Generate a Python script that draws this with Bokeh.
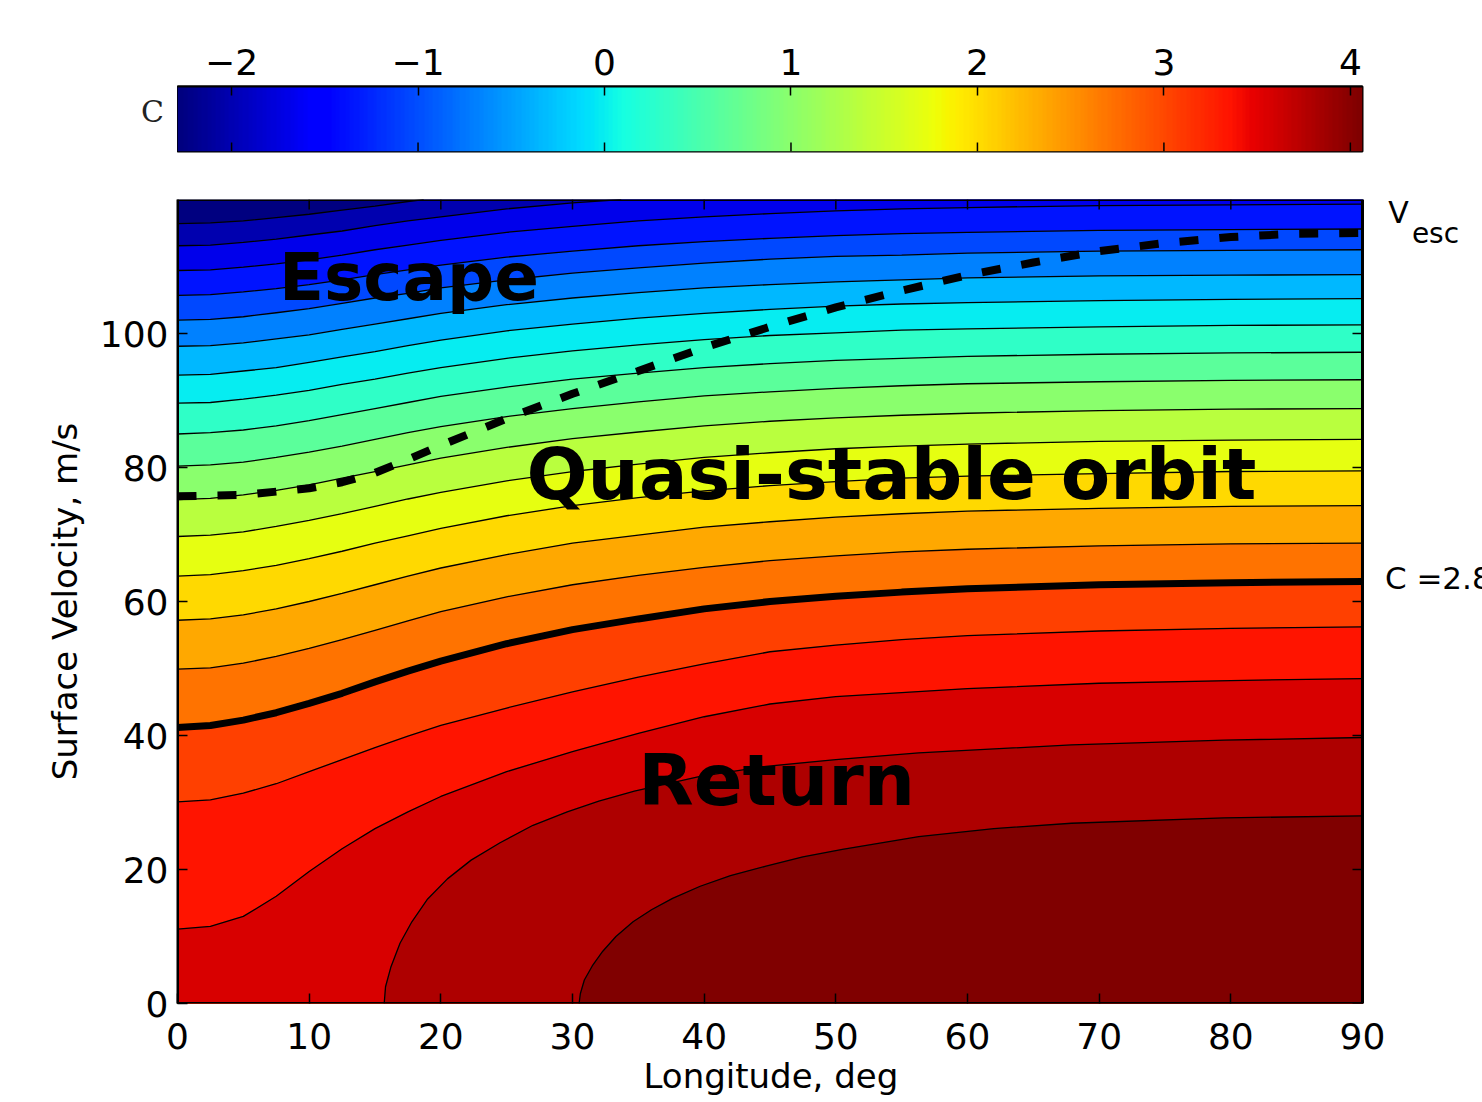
import numpy as np
from bokeh.plotting import figure
from bokeh.models import Range1d, FixedTicker, LinearColorMapper, Title
from bokeh.layouts import column, row
from bokeh.embed import file_html
from bokeh.resources import INLINE
from bokeh.core.properties import value

# ---------------- data ----------------
C_MIN, C_MAX = -2.29, 4.065
cbar_ticks = [-2, -1, 0, 1, 2, 3, 4]
lon_ticks = [0, 10, 20, 30, 40, 50, 60, 70, 80, 90]
vel_ticks = [0, 20, 40, 60, 80, 100]

# C value of each filled band, top (band 0) to bottom-right (band 20)
band_C = [-2.29, -2.03, -1.70, -1.38, -1.05, -0.69, -0.35, -0.02, 0.30, 0.64, 1.00,
          1.36, 1.71, 2.03, 2.36, 2.72, 3.06, 3.36, 3.58, 3.81, 4.06]

lon = [0, 2.5, 5, 7.5, 10, 12.5, 15, 17.5, 20, 25, 30, 35, 40, 45, 50, 55, 60, 70, 80, 90]

L01_lon = [0, 2.5, 5, 7.5, 10, 12.5, 15, 17.5, 18.7]
L01_v = [116.4, 116.5, 116.8, 117.3, 117.8, 118.4, 119.0, 119.7, 120.0]
L02_lon = [0, 2.5, 5, 7.5, 10, 12.5, 15, 17.5, 20, 25, 30, 33.7]
L02_v = [113.1, 113.2, 113.6, 114.1, 114.7, 115.3, 116.1, 116.8, 117.4, 118.6, 119.5, 120.0]
L03_v = [109.4, 109.5, 109.9, 110.4, 111.0, 111.7, 112.5, 113.2, 113.9, 115.1, 116.0, 116.8, 117.4, 117.9, 118.3, 118.6, 118.8, 119.1, 119.2, 119.3]
L04_v = [105.7, 105.8, 106.2, 106.7, 107.3, 108.0, 108.8, 109.5, 110.2, 111.4, 112.3, 113.1, 113.7, 114.2, 114.6, 114.9, 115.1, 115.4, 115.5, 115.6]
L05_v = [102.0, 102.1, 102.5, 103.1, 103.7, 104.5, 105.3, 106.0, 106.8, 108.0, 109.0, 109.8, 110.5, 111.1, 111.5, 111.7, 112.0, 112.3, 112.4, 112.5]
L06_v = [98.1, 98.2, 98.6, 99.2, 99.8, 100.6, 101.4, 102.2, 103.0, 104.3, 105.3, 106.1, 106.8, 107.3, 107.7, 108.0, 108.3, 108.6, 108.7, 108.8]
L07_v = [93.8, 93.9, 94.4, 94.9, 95.7, 96.5, 97.3, 98.2, 99.0, 100.4, 101.4, 102.3, 103.0, 103.6, 104.1, 104.4, 104.6, 104.9, 105.1, 105.2]
L08_v = [89.6, 89.7, 90.2, 90.8, 91.5, 92.4, 93.2, 94.1, 94.9, 96.3, 97.4, 98.3, 99.1, 99.7, 100.1, 100.5, 100.7, 101.0, 101.2, 101.3]
L09_v = [85.0, 85.2, 85.6, 86.2, 87.0, 87.9, 88.8, 89.7, 90.6, 92.0, 93.2, 94.1, 94.9, 95.5, 96.0, 96.3, 96.6, 96.9, 97.1, 97.2]
L10_v = [80.2, 80.4, 80.8, 81.5, 82.3, 83.2, 84.2, 85.2, 86.1, 87.6, 88.8, 89.8, 90.7, 91.3, 91.8, 92.2, 92.5, 92.8, 93.0, 93.1]
L11_v = [75.2, 75.4, 75.9, 76.6, 77.4, 78.4, 79.4, 80.4, 81.4, 83.0, 84.3, 85.3, 86.2, 86.9, 87.4, 87.8, 88.1, 88.5, 88.7, 88.8]
L12_v = [69.7, 69.9, 70.4, 71.2, 72.1, 73.1, 74.2, 75.3, 76.3, 78.0, 79.4, 80.5, 81.5, 82.2, 82.8, 83.2, 83.5, 83.9, 84.1, 84.2]
L13_v = [63.8, 64.0, 64.6, 65.4, 66.4, 67.5, 68.7, 69.8, 70.9, 72.8, 74.3, 75.5, 76.5, 77.3, 77.9, 78.4, 78.7, 79.1, 79.4, 79.5]
L14_v = [57.2, 57.4, 58.0, 58.9, 60.0, 61.2, 62.5, 63.8, 65.0, 67.0, 68.7, 69.9, 71.1, 71.9, 72.6, 73.1, 73.5, 73.9, 74.2, 74.3]
L15_v = [49.9, 50.1, 50.8, 51.8, 53.0, 54.3, 55.7, 57.1, 58.5, 60.7, 62.5, 63.9, 65.1, 66.1, 66.8, 67.4, 67.8, 68.3, 68.6, 68.7]
L16_v = [41.2, 41.5, 42.3, 43.4, 44.8, 46.3, 48.0, 49.6, 51.1, 53.7, 55.8, 57.4, 58.9, 60.0, 60.8, 61.4, 61.9, 62.5, 62.8, 63.0]  # C = 2.8
L17_v = [30.1, 30.4, 31.4, 32.8, 34.6, 36.4, 38.2, 39.9, 41.5, 44.1, 46.5, 48.7, 50.7, 52.5, 53.5, 54.3, 54.9, 55.6, 56.0, 56.2]
L18_lon = [0, 2.5, 5, 7.5, 10, 12.5, 15, 17.5, 20, 25, 30, 35, 40, 45, 50, 60, 70, 80, 90]
L18_v = [11.1, 11.5, 13.0, 16.0, 19.7, 23.1, 26.1, 28.6, 30.9, 34.6, 37.6, 40.3, 42.8, 44.7, 45.8,
         47.0, 47.8, 48.2, 48.5]
L19_lon = [15.7, 15.8, 16.2, 16.9, 17.8, 19.0, 20.5, 22.3, 24.5, 27.0, 29.6, 32.0, 34.7, 39.7,
           44.7, 50.0, 56.3, 67.9, 79.5, 90]
L19_v = [0.0, 2.5, 5.4, 9.0, 12.2, 15.6, 18.6, 21.4, 24.0, 26.6, 28.6, 30.2, 31.7, 33.9,
         35.4, 36.4, 37.4, 38.6, 39.3, 39.7]
L20_lon = [30.5, 30.6, 30.9, 31.5, 32.3, 33.3, 34.6, 36.0, 37.6, 39.7, 42.0, 44.7, 47.5, 50.5,
           56.3, 62.0, 67.9, 79.5, 90]
L20_v = [0.0, 1.5, 3.5, 5.6, 7.8, 10.0, 12.2, 14.0, 15.7, 17.5, 19.1, 20.5, 21.9, 23.0,
         24.9, 26.1, 26.9, 27.7, 28.0]

vesc_lon = [0, 5, 10, 12.5, 15, 17.5, 20, 25, 30, 35, 40, 45, 50, 55, 60, 65, 70, 75, 80, 85, 90]
vesc_v = [75.7, 75.9, 76.9, 77.8, 79.2, 81.2, 83.3, 87.3, 91.0, 94.4, 97.9, 101.0, 103.9, 106.4,
          108.7, 110.6, 112.3, 113.5, 114.4, 114.9, 115.0]

contours = [
    (L01_lon, L01_v), (L02_lon, L02_v), (lon, L03_v), (lon, L04_v), (lon, L05_v),
    (lon, L06_v), (lon, L07_v), (lon, L08_v), (lon, L09_v), (lon, L10_v),
    (lon, L11_v), (lon, L12_v), (lon, L13_v), (lon, L14_v), (lon, L15_v),
    (lon, L16_v), (lon, L17_v), (L18_lon, L18_v), (L19_lon, L19_v), (L20_lon, L20_v),
]
THICK_INDEX = 15

X_MIN, X_MAX, Y_MIN, Y_MAX = 0, 90, 0, 120

# region names and the labels at the right of the plot
region_t = ["Escape", "Quasi-stable orbit", "Return"]
region_x = [7.7, 26.5, 35.0]
region_y = [108.3, 79.0, 33.3]
side_t = ["V", "esc", "C =2.8"]
side_x = [91.95, 93.75, 91.7]
side_y = [118.1, 115.0, 63.45]


# ---------------- jet colormap ----------------
def jet(t):
    t = min(max(t, 0.0), 1.0)
    r = np.interp(t, [0, 0.35, 0.66, 0.89, 1], [0, 0, 1, 1, 0.5])
    g = np.interp(t, [0, 0.125, 0.375, 0.64, 0.91, 1], [0, 0, 1, 1, 0, 0])
    b = np.interp(t, [0, 0.11, 0.34, 0.65, 1], [0.5, 1, 1, 0, 0])
    return "#%02x%02x%02x" % (int(round(r * 255)), int(round(g * 255)), int(round(b * 255)))


def cmap(c):
    return jet((c - C_MIN) / (C_MAX - C_MIN))


FONT = "DejaVu Sans"
TICK_FS = "36px"

# geometry (pixels)
LEFT, FRAME_W, RIGHT = 177, 1185, 120
CB_TOP, CB_H, CB_BOT = 86, 65, 24
P_TOP, P_H, P_BOT = 24, 804, 99
TICK_LEN = 10

# ---------------- colour bar row ----------------
cl = figure(width=LEFT, height=CB_TOP + CB_H + CB_BOT, x_range=Range1d(0, LEFT), y_range=Range1d(0, 1),
            output_backend="svg", toolbar_location=None, x_axis_location=None, y_axis_location=None,
            min_border_left=0, min_border_right=0, min_border_top=CB_TOP, min_border_bottom=CB_BOT)
cl.grid.visible = False
cl.outline_line_color = None
cl.text(x=[152], y=[0.62], text=["C"], text_align="center", text_baseline="middle",
        text_font=value("DejaVu Serif"), text_font_size="30px", text_color="#222222")

cb = figure(width=FRAME_W + RIGHT, height=CB_TOP + CB_H + CB_BOT, x_range=Range1d(C_MIN, C_MAX),
            y_range=Range1d(0, 1), output_backend="svg", toolbar_location=None, x_axis_location="above",
            y_axis_location=None, min_border_left=0, min_border_right=RIGHT,
            min_border_top=CB_TOP, min_border_bottom=CB_BOT)
palette = [jet(i / 255.0) for i in range(256)]
mapper = LinearColorMapper(palette=palette, low=C_MIN, high=C_MAX)
grad = np.linspace(C_MIN, C_MAX, 600).reshape(1, -1)
cb.image(image=[grad], x=C_MIN, y=0, dw=C_MAX - C_MIN, dh=1, color_mapper=mapper)
cb.grid.visible = False
cb.outline_line_color = "black"
cb.outline_line_width = 2
cax = cb.above[0]
cax.ticker = FixedTicker(ticks=cbar_ticks)
cax.major_label_overrides = {t: (str(t) if t >= 0 else "\u2212" + str(-t)) for t in cbar_ticks}
cax.major_tick_in = 9
cax.major_tick_out = 0
cax.minor_tick_line_color = None
cax.axis_line_width = 2
cax.major_tick_line_width = 1.5
cax.major_label_text_font = FONT
cax.major_label_text_font_size = TICK_FS
cax.major_label_text_color = "black"
cax.major_label_standoff = 12
cb.segment(x0=cbar_ticks, x1=cbar_ticks, y0=[0] * len(cbar_ticks), y1=[9.0 / CB_H] * len(cbar_ticks),
           line_color="black", line_width=1.5)

# ---------------- main contour figure (frame also spans the label strip on the right) ----------------
px_per_lon = FRAME_W / (X_MAX - X_MIN)
X_END = X_MAX + RIGHT / px_per_lon
p = figure(width=LEFT + FRAME_W + RIGHT, height=P_TOP + P_H + P_BOT, x_range=Range1d(X_MIN, X_END),
           y_range=Range1d(Y_MIN, Y_MAX), output_backend="svg", toolbar_location=None,
           min_border_left=LEFT, min_border_right=0, min_border_top=P_TOP, min_border_bottom=P_BOT)
p.background_fill_color = "white"
p.grid.visible = False
p.outline_line_color = None

# band 0 fills the whole plotting box, then each contour paints the region "below" it
p.quad(left=[X_MIN], right=[X_MAX], bottom=[Y_MIN], top=[Y_MAX], fill_color=cmap(band_C[0]), line_color=None)
for k, (xs, ys) in enumerate(contours):
    px = list(xs)
    py = list(ys)
    if px[-1] < X_MAX:
        px.append(X_MAX)
        py.append(Y_MAX)
    px.append(X_MAX)
    py.append(Y_MIN)
    if xs[0] == X_MIN:
        px.append(X_MIN)
        py.append(Y_MIN)
    col = cmap(band_C[k + 1])
    p.patch(px, py, fill_color=col, line_color=col, line_width=0.5)

for k, (xs, ys) in enumerate(contours):
    if k == THICK_INDEX:
        p.line(xs, ys, line_color="black", line_width=7)
    else:
        p.line(xs, ys, line_color="black", line_width=1.3)

p.line(vesc_lon, vesc_v, line_color="black", line_width=8, line_dash="19 21", line_cap="butt")

region_fs = ["66px", "72px", "72px"]
for x_, y_, t_, fs_ in zip(region_x, region_y, region_t, region_fs):
    p.text(x=[x_], y=[y_], text=[t_], text_font=value(FONT), text_font_style="bold",
           text_font_size=fs_, text_baseline="alphabetic", text_align="left", text_color="black")

# plotting-box border and mirrored inward ticks on top and right edges
p.quad(left=[X_MIN], right=[X_MAX], bottom=[Y_MIN], top=[Y_MAX], fill_color=None,
       line_color="black", line_width=3)
dy = TICK_LEN * (Y_MAX - Y_MIN) / P_H
dx = TICK_LEN / px_per_lon
p.segment(x0=lon_ticks, x1=lon_ticks, y0=[Y_MAX] * len(lon_ticks), y1=[Y_MAX - dy] * len(lon_ticks),
          line_color="black", line_width=1.5)
p.segment(x0=[X_MAX] * len(vel_ticks), x1=[X_MAX - dx] * len(vel_ticks), y0=vel_ticks, y1=vel_ticks,
          line_color="black", line_width=1.5)

side_fs = ["30px", "28px", "31px"]
for x_, y_, t_, fs_ in zip(side_x, side_y, side_t, side_fs):
    p.text(x=[x_], y=[y_], text=[t_], text_font=value(FONT), text_font_size=fs_,
           text_baseline="alphabetic", text_align="left", text_color="black")

xax = p.below[0]
yax = p.left[0]
xax.ticker = FixedTicker(ticks=lon_ticks)
yax.ticker = FixedTicker(ticks=vel_ticks)
for ax in (xax, yax):
    ax.major_tick_in = TICK_LEN
    ax.major_tick_out = 0
    ax.minor_tick_line_color = None
    ax.major_tick_line_width = 1.5
    ax.major_label_text_font = FONT
    ax.major_label_text_font_size = TICK_FS
    ax.major_label_text_color = "black"
xax.axis_line_color = None
yax.axis_line_width = 2
yax.axis_label = "Surface Velocity, m/s"
yax.axis_label_text_font = FONT
yax.axis_label_text_font_size = "34px"
yax.axis_label_text_font_style = "normal"
yax.axis_label_text_color = "black"
xax.major_label_standoff = 19
yax.major_label_standoff = 9
yax.axis_label_standoff = 12

# x-axis title, left-aligned and shifted so it sits centred under the plotting box
x_title = Title(text="Longitude, deg", align="left", offset=466, standoff=5,
                text_font=FONT, text_font_size="34px", text_font_style="normal", text_color="black")
p.add_layout(x_title, "below")

layout = column(row(cl, cb, spacing=0), p, spacing=0)
open("out.html", "w").write(file_html(layout, INLINE))
